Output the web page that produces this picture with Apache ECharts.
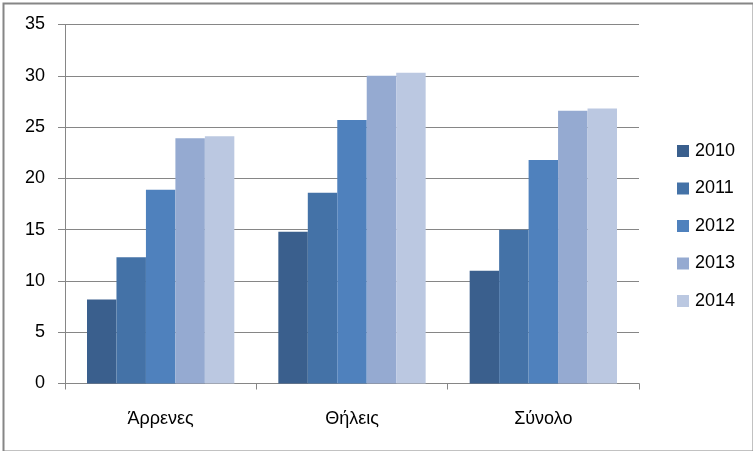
<!DOCTYPE html>
<html>
<head>
<meta charset="utf-8">
<script src="https://cdn.jsdelivr.net/npm/echarts@6/dist/echarts.min.js"></script>
<style>
html,body{margin:0;padding:0;background:#fff;}
#chart{width:753px;height:451px;}
</style>
</head>
<body>
<div id="chart"></div>
<script>
const categories = ['Άρρενες', 'Θήλεις', 'Σύνολο'];
const seriesNames = ['2010', '2011', '2012', '2013', '2014'];
const v2010 = [8.2, 14.8, 11.0];
const v2011 = [12.3, 18.6, 15.0];
const v2012 = [18.9, 25.7, 21.8];
const v2013 = [23.9, 30.0, 26.6];
const v2014 = [24.1, 30.3, 26.8];
const values = [v2010, v2011, v2012, v2013, v2014];
const colors = ['#3A5F8D', '#4472A7', '#4F81BD', '#95AAD1', '#BBC8E1'];
const yTicks = [0, 5, 10, 15, 20, 25, 30, 35];

const font = 'Liberation Sans';
const chart = echarts.init(document.getElementById('chart'), null, {renderer: 'canvas'});
chart.setOption({
  animation: false,
  backgroundColor: '#fff',
  color: colors,
  graphic: [{
    type: 'rect', left: 1, top: 1, silent: true, z: 100,
    shape: {width: 750, height: 448},
    style: {fill: 'none', stroke: '#868686', lineWidth: 2}
  }],
  grid: {left: 65, right: 114, top: 24.5, bottom: 67.5, containLabel: false},
  legend: {
    orient: 'vertical', left: 672, top: 137,
    itemWidth: 12, itemHeight: 12, itemGap: 19.5, icon: 'rect',
    textStyle: {fontFamily: font, fontSize: 18, color: '#000', lineHeight: 18, padding: [0, 0, 0, 1]},
    data: seriesNames
  },
  xAxis: {
    type: 'category', data: categories,
    axisLine: {lineStyle: {color: '#868686', width: 1}},
    axisTick: {show: true, length: 6, lineStyle: {color: '#868686'}},
    axisLabel: {fontFamily: font, fontSize: 18, color: '#000', margin: 27}
  },
  yAxis: {
    type: 'value', min: yTicks[0], max: yTicks[yTicks.length - 1], interval: 5,
    axisLine: {show: true, lineStyle: {color: '#868686', width: 1}},
    axisTick: {show: true, length: 7, lineStyle: {color: '#868686'}},
    axisLabel: {fontFamily: font, fontSize: 18, color: '#000', margin: 20},
    splitLine: {show: true, lineStyle: {color: '#868686', width: 1}}
  },
  series: seriesNames.map((n, i) => ({
    name: n, type: 'bar', data: values[i],
    barGap: '0%', barCategoryGap: '23%',
    itemStyle: {color: colors[i]}
  }))
});
</script>
</body>
</html>
